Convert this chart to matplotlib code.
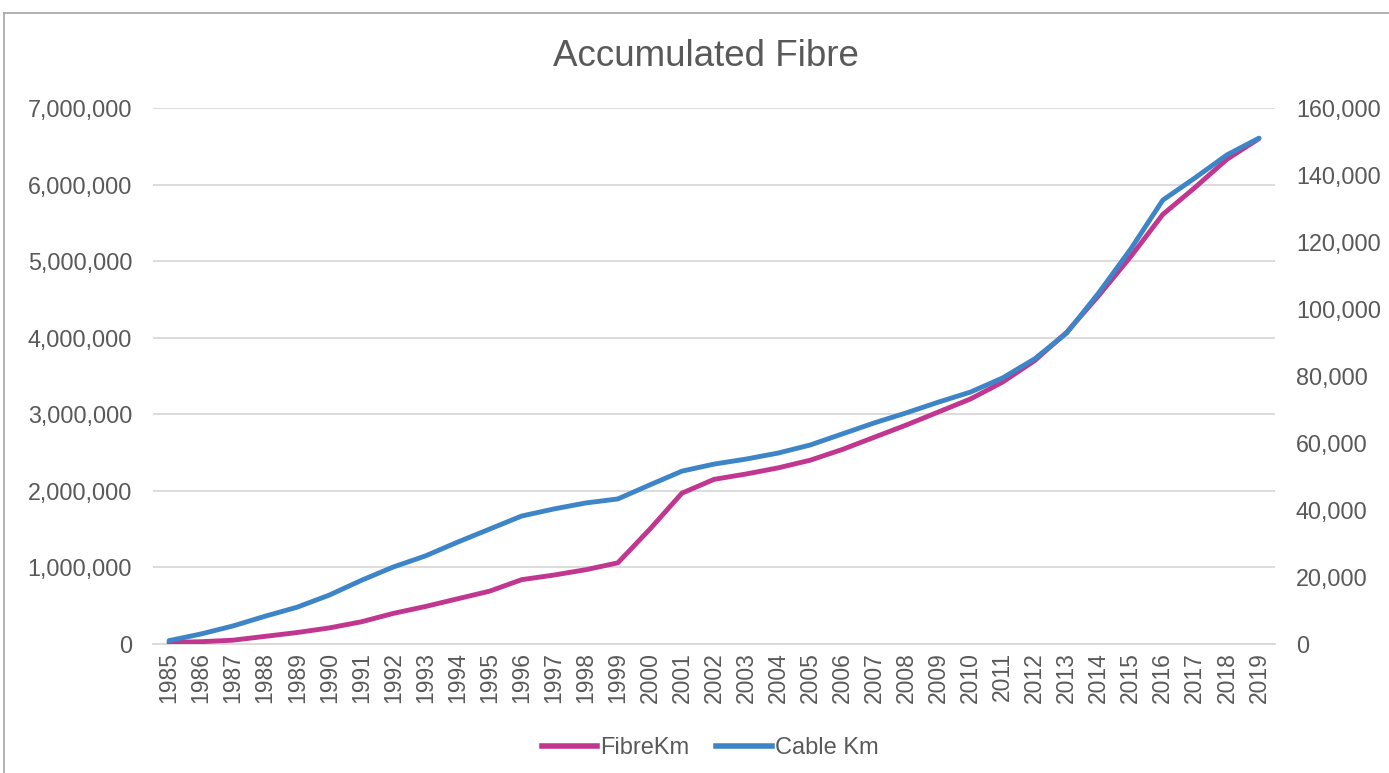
import matplotlib
matplotlib.use("Agg")
import matplotlib.pyplot as plt
from matplotlib.ticker import FuncFormatter, MultipleLocator
from matplotlib.lines import Line2D

years = list(range(1985, 2020))
fibre_km = [20000, 30000, 50000, 100000, 150000, 210000, 290000, 400000, 490000, 590000,
            690000, 840000, 900000, 970000, 1060000, 1500000, 1970000, 2150000, 2220000, 2300000,
            2400000, 2540000, 2700000, 2860000, 3030000, 3200000, 3420000, 3700000, 4070000, 4550000,
            5060000, 5610000, 5960000, 6330000, 6600000]
cable_km = [1000, 3000, 5400, 8300, 11000, 14600, 19000, 23000, 26300, 30400,
            34300, 38200, 40300, 42100, 43300, 47500, 51600, 53700, 55200, 57000,
            59400, 62700, 66000, 69000, 72200, 75200, 79400, 85100, 92800, 104800,
            117900, 132500, 139100, 146000, 151000]

plt.rcParams['font.family'] = ['Liberation Sans', 'DejaVu Sans']
TXT = '#595959'
FIB = '#C1378F'
CAB = '#3D85C6'

fig = plt.figure(figsize=(13.89, 7.73), dpi=100)
W, H = 1389, 773
ax = fig.add_axes([153 / W, 1 - 644 / H, (1275 - 153) / W, (644 - 108) / H])
ax2 = ax.twinx()

x = list(range(len(years)))
ax.plot(x, fibre_km, color=FIB, lw=3.5, solid_capstyle='round', solid_joinstyle='round', zorder=3)
ax2.plot(x, cable_km, color=CAB, lw=3.5, solid_capstyle='round', solid_joinstyle='round', zorder=3)

ax.set_xlim(-0.5, len(years) - 0.5)
ax.set_ylim(0, 7000000)
ax2.set_ylim(0, 160000)
ax.yaxis.set_major_locator(MultipleLocator(1000000))
ax2.yaxis.set_major_locator(MultipleLocator(20000))
fmt = FuncFormatter(lambda v, p: f"{int(v):,}")
ax.yaxis.set_major_formatter(fmt)
ax2.yaxis.set_major_formatter(fmt)

ax.set_xticks(x)
ax.set_xticklabels([str(y) for y in years], rotation=90)

ax.grid(axis='y', color='#D9D9D9', lw=1.3)
ax.set_axisbelow(True)
for a in (ax, ax2):
    for s in a.spines.values():
        s.set_visible(False)
ax.spines['bottom'].set_visible(True)
ax.spines['bottom'].set_color('#D9D9D9')
ax.spines['bottom'].set_linewidth(1.3)

ax.tick_params(axis='y', length=0, pad=15, labelsize=16.8, labelcolor=TXT)
ax2.tick_params(axis='y', length=0, pad=15, labelsize=16.8, labelcolor=TXT)
ax.tick_params(axis='x', length=0, pad=6, labelsize=16.5, labelcolor=TXT)

fig.text(706 / W, 1 - 57 / H, 'Accumulated Fibre', ha='center', va='center',
         fontsize=26.5, color=TXT)

handles = [Line2D([], [], color=FIB, lw=4), Line2D([], [], color=CAB, lw=4)]
fig.legend(handles, ['FibreKm', 'Cable Km'], loc='center', bbox_to_anchor=(710 / W, 1 - 748 / H),
           ncol=2, frameon=False, fontsize=17, handlelength=2.35, handletextpad=0.12,
           columnspacing=1.15, labelcolor=TXT)

# chart border (top and left visible)
fig.add_artist(Line2D([4 / W, 4 / W], [0, 1 - 13 / H], transform=fig.transFigure, color='#A6A6A6', lw=1.2))
fig.add_artist(Line2D([4 / W, 1], [1 - 13 / H, 1 - 13 / H], transform=fig.transFigure, color='#A6A6A6', lw=1.2))

fig.savefig('out.png', dpi=100)
